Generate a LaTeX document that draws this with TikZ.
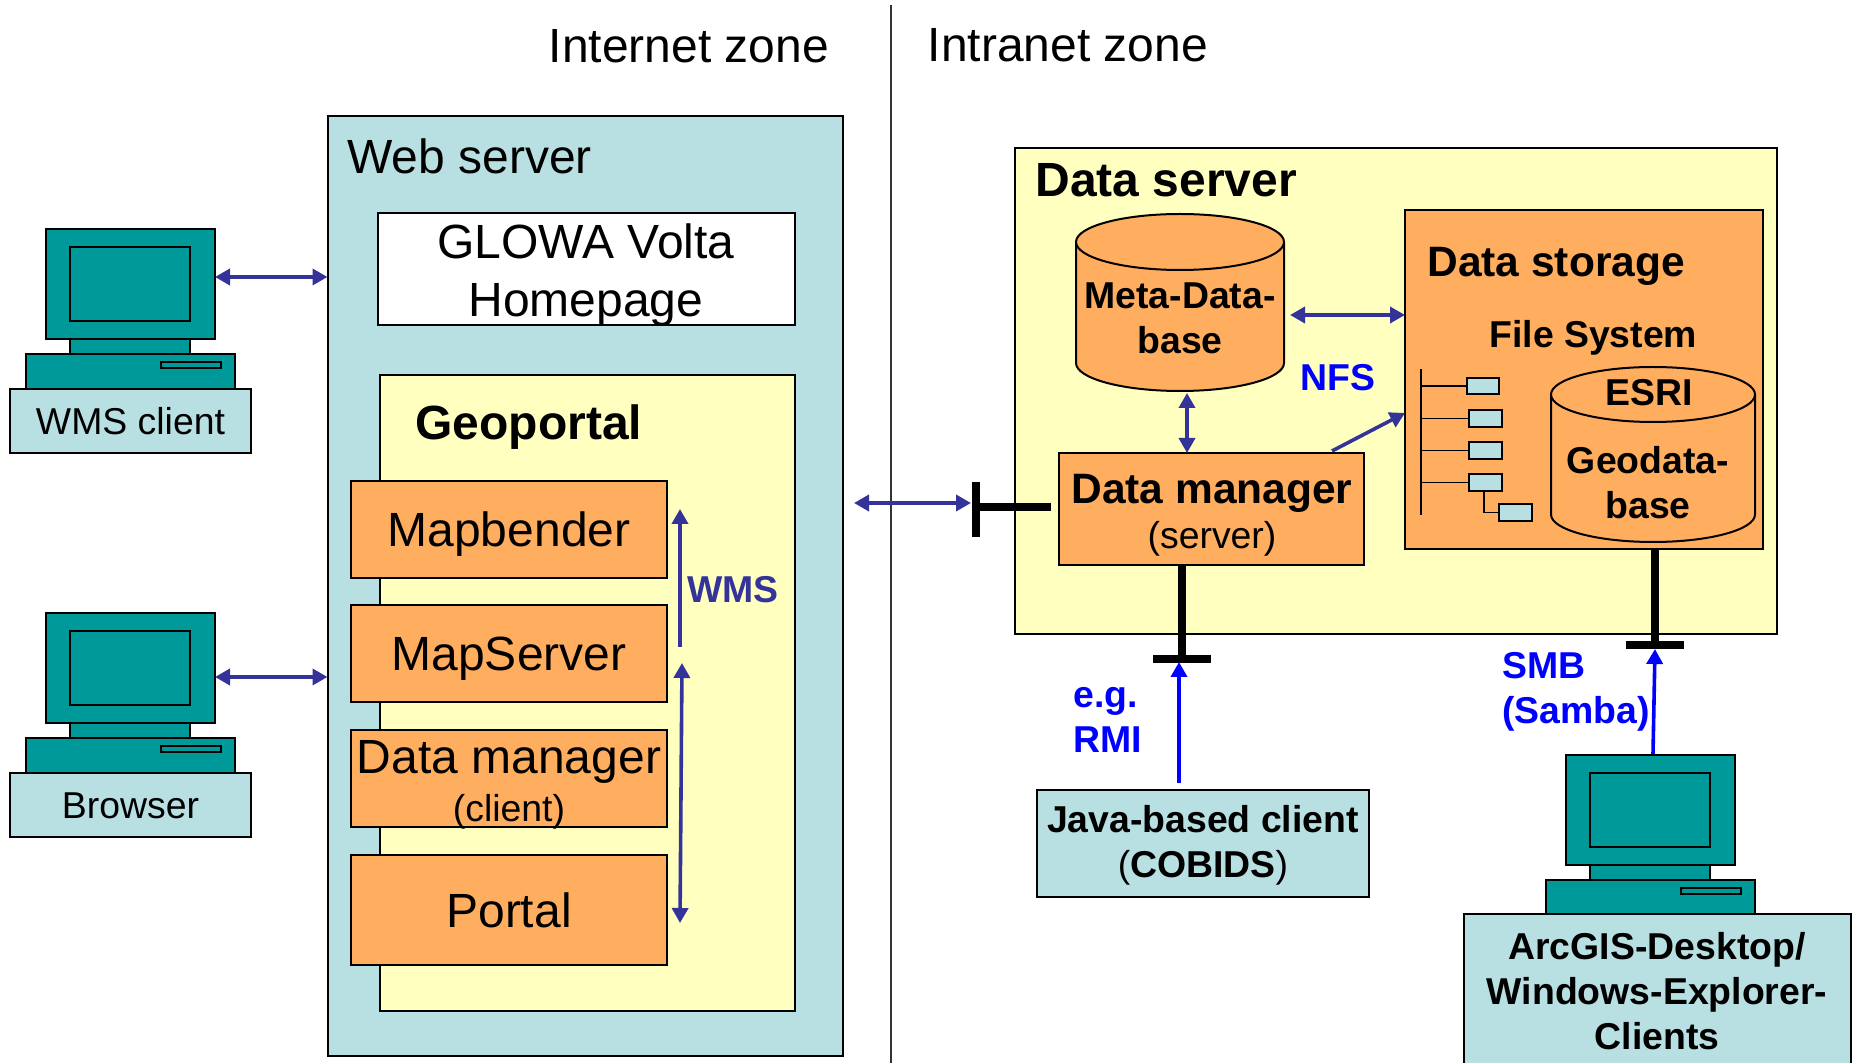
\documentclass[tikz,border=0pt]{standalone}
\usepackage{fontspec}
\setmainfont{Liberation Sans}
\usetikzlibrary{arrows.meta, fit}

\definecolor{paleblue}{RGB}{184,223,226}
\definecolor{paleyellow}{RGB}{255,255,192}
\definecolor{boxorange}{RGB}{255,173,95}
\definecolor{pcteal}{RGB}{0,153,153}
\definecolor{linkindigo}{RGB}{51,51,153}
\definecolor{linkblue}{RGB}{0,0,255}

\newcommand{\fbig}{\fontsize{24}{28.5}\selectfont}
\newcommand{\fmid}{\fontsize{21.25}{22.5}\selectfont}
\newcommand{\fsmall}{\fontsize{18.7}{22.5}\selectfont}

\tikzset{
    every node/.append style={inner sep=0pt},
    frame/.style={draw=black, line width=1pt, inner sep=0pt, outer sep=0pt},
    bluebox/.style={frame, fill=paleblue},
    yellowbox/.style={frame, fill=paleyellow},
    orangebox/.style={frame, fill=boxorange},
    pcpart/.style={frame, fill=pcteal},
    bigcaps/.style={font=\fbig, text height=17.5pt, text depth=0pt, minimum width=158pt},
    smallcaps/.style={font=\fsmall, text height=13.4pt, text depth=0pt, minimum width=120.5pt, minimum height=32pt},
    link/.style={draw=linkindigo, line width=1.8pt},
    proto/.style={draw=linkblue, line width=1.8pt},
    stub/.style={draw=black, line width=4pt},
    treeline/.style={draw=black, line width=0.8pt},
    leaf/.style={frame, fill=paleblue},
    >={Triangle[length=7.5pt,width=8pt]}
}

\begin{document}
\begin{tikzpicture}[x=0.5pt, y=-0.5pt]
    \useasboundingbox (0,0) rectangle (1854,1063);

    % Zones
    \coordinate (zoneTop) at (891,5);
    \coordinate (zoneBottom) at (891,1063);
    \draw[line width=1.2pt, black!80] (zoneTop) -- (zoneBottom);
    \node[font=\fbig, anchor=base] (internet) at (689,63) {Internet zone};
    \node[font=\fbig, anchor=base] (intranet) at (1068,62) {Intranet zone};

    % Web server
    \node[bluebox, fit={(327.5,116) (843,1056)}] (web) {};
    \node[font=\fbig, anchor=base west] (webtitle) at (347,174) {Web server};
    \node[frame, fill=white, fit={(378,213) (795,325)}] (home) {};
    \node[font=\fbig, align=center] (hometext) at (586,275) {GLOWA Volta\\[0.5pt]Homepage};

    % Geoportal
    \node[yellowbox, fit={(380,375) (795,1011)}] (geo) {};
    \node[font=\fbig\bfseries, anchor=base west] (geotitle) at (415,440) {Geoportal};
    \node[orangebox, bigcaps, minimum height=48.5pt] (mapbender) at (509,529.5) {Mapbender};
    \node[orangebox, bigcaps, minimum height=48.5pt] (mapserver) at (509,653.5) {MapServer};
    \node[orangebox, fit={(351,730) (667,827)}] (dmclient) {};
    \node[font=\fbig, anchor=base] (dmclienttext) at (509,774) {Data manager};
    \node[font=\fsmall, anchor=base] (dmclientsub) at (509,821) {(client)};
    \node[orangebox, bigcaps, minimum height=55pt] (portal) at (509,910) {Portal};

    % WMS
    \coordinate (wmsA) at (680,647);
    \coordinate (wmsB) at (680,509);
    \coordinate (wmsC) at (682,663);
    \coordinate (wmsD) at (680,923);
    \draw[link, ->] (wmsA) -- (wmsB);
    \draw[link, <->] (wmsD) -- (wmsC);
    \node[font=\fsmall\bfseries, text=linkindigo, anchor=base west] (wms) at (687,603) {WMS};

    % Clients on the left and bottom right
    \foreach \pc/\dx/\dy in {wmspc/0/0, browserpc/0/384, arcpc/1520/526} {
        \node[pcpart, fit={(\dx+46,\dy+229) (\dx+215,\dy+339)}] (\pc-mon) {};
        \node[pcpart, fit={(\dx+70,\dy+247) (\dx+190,\dy+321)}] (\pc-screen) {};
        \node[pcpart, fit={(\dx+70,\dy+339) (\dx+190,\dy+354)}] (\pc-neck) {};
        \node[pcpart, fit={(\dx+26,\dy+354) (\dx+235,\dy+392)}] (\pc-base) {};
        \node[pcpart, fit={(\dx+161,\dy+362) (\dx+221,\dy+368)}] (\pc-slot) {};
    }
    \node[bluebox, smallcaps] (wmsclient) at (130.5,421) {WMS client};
    \node[bluebox, smallcaps] (browser) at (130.5,805) {Browser};
    \node[bluebox, fit={(1464,914) (1851,1085)}] (arcclient) {};
    \node[font=\fsmall\bfseries, align=center] (arctext) at (1657,991) {ArcGIS-Desktop/\\Windows-Explorer-\\Clients};

    \coordinate (wmsLink) at (215,277);
    \coordinate (browserLink) at (215,677);
    \draw[link, <->] (wmsLink) -- (wmsLink -| web.west);
    \draw[link, <->] (browserLink) -- (browserLink -| web.west);

    % Data server
    \node[yellowbox, fit={(1014.5,148) (1777,634)}] (data) {};
    \node[font=\fbig\bfseries, anchor=base west] (datatitle) at (1035,197) {Data server};

    % Meta-Data-base
    \draw[frame, fill=boxorange] (1076,242) -- (1076,363)
        arc[start angle=180, end angle=0, x radius=104, y radius=28] -- (1284,242);
    \draw[frame, fill=boxorange] (1180,242) ellipse [x radius=104, y radius=28];
    \node[font=\fsmall\bfseries, align=center] (meta) at (1180,318) {Meta-Data-\\base};

    % Data storage
    \node[orangebox, fit={(1405,210) (1763,549)}] (storage) {};
    \node[font=\fmid\bfseries, anchor=base west] (storagetitle) at (1427,277) {Data storage};
    \node[font=\fsmall\bfseries, anchor=base west] (filesystem) at (1489,348) {File System};

    % Tree of files
    \coordinate (treeTop) at (1421,369);
    \coordinate (treeBottom) at (1421,515);
    \draw[treeline] (treeTop) -- (treeBottom);
    \node[leaf, fit={(1467,378) (1499,394)}] (leafA) {};
    \node[leaf, fit={(1469,410) (1502,427)}] (leafB) {};
    \node[leaf, fit={(1469,442) (1502,459)}] (leafC) {};
    \node[leaf, fit={(1469,474) (1502,491)}] (leafD) {};
    \node[leaf, fit={(1499,504) (1532,521)}] (leafE) {};
    \foreach \lf in {leafA, leafB, leafC, leafD}
        \draw[treeline] (treeTop |- \lf.west) -- (\lf.west);
    \coordinate (leafFork) at (1484,491);
    \draw[treeline] (leafFork) |- (leafE.west);

    % ESRI Geodatabase
    \draw[frame, fill=boxorange] (1551,394.5) -- (1551,514.5)
        arc[start angle=180, end angle=0, x radius=102, y radius=27.5] -- (1755,394.5);
    \draw[frame, fill=boxorange] (1653,394.5) ellipse [x radius=102, y radius=27.5];
    \node[font=\fsmall\bfseries, anchor=base] (esri) at (1649,406) {ESRI};
    \node[font=\fsmall\bfseries, align=center] (geodb) at (1648,483) {Geodata-\\base};

    % Data manager (server)
    \node[orangebox, fit={(1059,453) (1364,565)}] (dmserver) {};
    \node[font=\fmid\bfseries, anchor=base] (dmservertext) at (1212,504) {Data manager};
    \node[font=\fsmall, anchor=base] (dmserversub) at (1212,549) {(server)};

    % Links inside the data server
    \coordinate (metaE) at (1290,315);
    \coordinate (metaS) at (1187,393);
    \coordinate (dmStart) at (1332,451);
    \coordinate (storageIn) at (1405,413);
    \draw[link, <->] (metaE) -- (metaE -| storage.west);
    \draw[link, <->] (metaS) -- (metaS |- dmserver.north);
    \draw[link, ->] (dmStart) -- (storageIn);
    \node[font=\fsmall\bfseries, text=linkblue, anchor=base west] (nfs) at (1300,391) {NFS};

    % Interface to the internet zone
    \coordinate (gateStem) at (1051,507);
    \coordinate (gateBar) at (976,507);
    \coordinate (gateTop) at (976,482);
    \coordinate (gateBottom) at (976,537);
    \coordinate (gateLink) at (854,503);
    \draw[stub] (gateStem) -- (gateBar);
    \draw[stub] (gateTop) -- (gateBottom);
    \draw[link, <->] (gateLink) -- (971,503);

    % Java-based client
    \node[bluebox, fit={(1037,790) (1369,897)}] (java) {};
    \node[font=\fsmall, align=center] (javatext) at (1203,845) {\bfseries Java-based client\\(\textbf{COBIDS})};
    \coordinate (rmiBar) at (1182,659);
    \coordinate (rmiBarL) at (1153,659);
    \coordinate (rmiBarR) at (1211,659);
    \coordinate (rmiTail) at (1179,783);
    \coordinate (rmiTip) at (1179,662);
    \draw[stub] (rmiBar |- dmserver.south) -- (rmiBar);
    \draw[stub] (rmiBarL) -- (rmiBarR);
    \draw[proto, ->] (rmiTail) -- (rmiTip);
    \node[font=\fsmall\bfseries, text=linkblue, align=left] (rmi) at (1108,720) {e.g.\\RMI};

    % Samba
    \coordinate (smbBar) at (1655,645);
    \coordinate (smbBarL) at (1626,645);
    \coordinate (smbBarR) at (1684,645);
    \coordinate (smbTip) at (1655,649);
    \coordinate (smbTail) at (1653,754);
    \draw[stub] (smbBar |- storage.south) -- (smbBar);
    \draw[stub] (smbBarL) -- (smbBarR);
    \draw[proto, ->] (smbTail) -- (smbTip);
    \node[font=\fsmall\bfseries, text=linkblue, align=left] (smb) at (1576,692) {SMB\\(Samba)};
\end{tikzpicture}
\end{document}
